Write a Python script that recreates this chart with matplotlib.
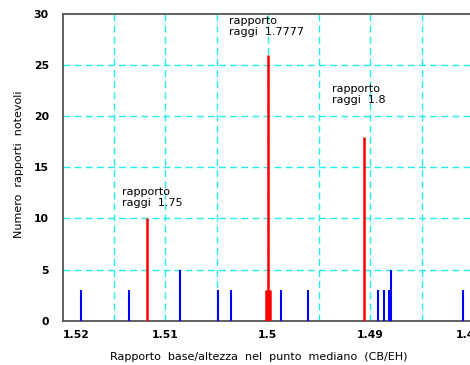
import matplotlib
matplotlib.use("Agg")
import matplotlib.pyplot as plt
import matplotlib.transforms as mtransforms
from matplotlib.ticker import FixedLocator

# Notable ratios (blue) and the radius-ratio peaks (red)
blue_x = [1.51825, 1.51354, 1.50857, 1.50489, 1.50363, 1.49869, 1.49610,
          1.48925, 1.48867, 1.48815, 1.48802, 1.48094]
blue_n = [3, 3, 5, 3, 3, 3, 3, 3, 3, 3, 5, 3]

red_x = [1.51178, 1.50016, 1.50006, 1.49986, 1.49977, 1.49996, 1.49067]
red_n = [10, 3, 3, 3, 3, 26, 18]

peak_labels = ["rapporto\nraggi  1.75", "rapporto\nraggi  1.7777", "rapporto\nraggi  1.8"]
label_pos = [(1.51422, 13.1), (1.50379, 29.8), (1.49378, 23.2)]

x_ticks = [1.52, 1.51, 1.50, 1.49, 1.48]
x_ticklabels = ["1.52", "1.51", "1.5", "1.49", "1.48"]
y_ticks = [0, 5, 10, 15, 20, 25, 30]

plt.rcParams['font.family'] = ['DejaVu Sans']

fig = plt.figure(figsize=(4.70, 3.65), dpi=100)
W, H = 470.0, 365.0
x0, x1, y0, y1 = 62.7, 473.0, 14.0, 320.7
ax = fig.add_axes([x0 / W, 1 - y1 / H, (x1 - x0) / W, (y1 - y0) / H])

ax.set_xlim(1.52, 1.48)
ax.set_ylim(0, 30)

# dashed cyan grid
for gx in [1.515, 1.51, 1.505, 1.50, 1.495, 1.49, 1.485]:
    ax.axvline(gx, color="#22eeee", lw=1.0, ls=(0, (5, 3)), zorder=1)
for gy in [5, 10, 15, 20, 25]:
    ax.axhline(gy, color="#22eeee", lw=1.0, ls=(0, (5, 3)), zorder=1)

ax.vlines(blue_x, 0, blue_n, color="#0000ff", lw=1.5, zorder=3)
ax.vlines(red_x, 0, red_n, color="#ff0000", lw=1.8, zorder=3)

for (tx, ty), lab in zip(label_pos, peak_labels):
    ax.text(tx, ty, lab, ha="left", va="top", fontsize=8,
            linespacing=1.15, color="black", zorder=4)

ax.xaxis.set_major_locator(FixedLocator(x_ticks))
ax.set_xticklabels(x_ticklabels)
ax.yaxis.set_major_locator(FixedLocator(y_ticks))
ax.tick_params(length=0, labelsize=7.8, pad=7)
for lbl in ax.get_xticklabels() + ax.get_yticklabels():
    lbl.set_fontweight("bold")
xt = ax.get_xticklabels()
xt[0].set_horizontalalignment("left")
# nudge the last label inward so it sits at the plot edge
xt[-1].set_transform(xt[-1].get_transform() +
                     mtransforms.ScaledTranslation(-4 / 100, 0, fig.dpi_scale_trans))
ax.tick_params(axis="y", pad=10)

for s in ax.spines.values():
    s.set_color("#555555")
    s.set_linewidth(1.3)

fig.text(259 / W, 1 - 357 / H, "Rapporto  base/altezza  nel  punto  mediano  (CB/EH)",
         ha="center", va="center", fontsize=8)
fig.text(19 / W, 1 - 164 / H, "Numero  rapporti  notevoli", rotation=90,
         ha="center", va="center", fontsize=8)

fig.savefig("out.png", dpi=100)
